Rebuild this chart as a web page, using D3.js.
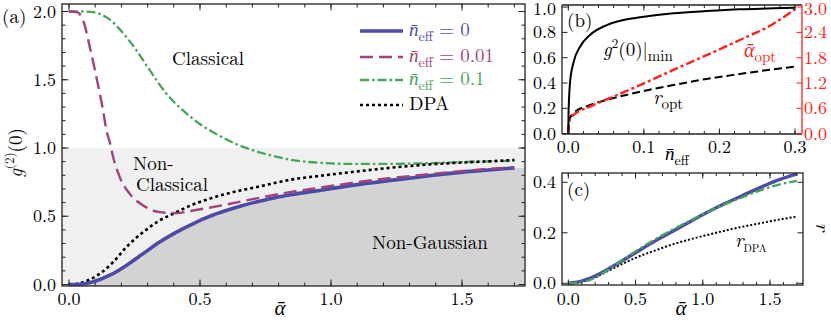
<!DOCTYPE html>
<html><head><meta charset="utf-8">
<script src="https://cdn.jsdelivr.net/npm/d3@7"></script>
<style>
body{margin:0;background:#fff;}
</style></head>
<body><svg id="c" width="831" height="321"></svg>
<script>
// ---------- Panel (a): g2(0) vs alpha ----------
const aBlue = [0,0.04,0.093,0.156,0.219,0.283,0.346,0.41,0.473,0.536,0.6,0.663,0.726,0.79,0.853,0.967,1.094,1.22,1.347,1.474,1.6,1.7];
const gBlue = [0,0.002,0.02,0.068,0.14,0.226,0.311,0.384,0.445,0.499,0.542,0.579,0.61,0.638,0.66,0.693,0.73,0.761,0.79,0.818,0.839,0.854];
const aPurple = [0,0.03,0.055,0.08,0.105,0.13,0.143,0.156,0.169,0.194,0.232,0.283,0.346,0.41,0.473,0.6,0.726,0.853,0.967,1.094,1.22,1.347,1.474,1.6,1.7];
const gPurple = [2.0,1.995,1.93,1.735,1.515,1.275,1.128,1.04,0.93,0.785,0.664,0.579,0.53,0.523,0.542,0.586,0.635,0.68,0.712,0.749,0.778,0.803,0.827,0.847,0.858];
const aGreen = [0,0.05,0.093,0.156,0.207,0.257,0.308,0.371,0.435,0.498,0.56,0.625,0.688,0.75,0.853,0.967,1.094,1.22,1.347,1.474,1.6,1.7];
const gGreen = [2.0,2.0,1.995,1.94,1.84,1.717,1.57,1.40,1.275,1.178,1.105,1.04,0.993,0.956,0.912,0.89,0.883,0.883,0.888,0.895,0.902,0.907];
const aDPA = [0,0.03,0.067,0.118,0.169,0.219,0.283,0.346,0.41,0.473,0.536,0.6,0.726,0.853,0.967,1.094,1.22,1.347,1.474,1.6,1.7];
const gDPA = [0,0.005,0.026,0.08,0.165,0.274,0.384,0.469,0.53,0.586,0.628,0.664,0.718,0.77,0.798,0.827,0.854,0.876,0.891,0.902,0.912];
const ticksA_x = [0,0.5,1.0,1.5];
const ticksA_y = [0,0.5,1.0,1.5,2.0];
const legendLabels = ["0","0.01","0.1"];

// ---------- Panel (b): vs n_eff ----------
const nG2 = [0,0.0003,0.001,0.0022,0.0066,0.0155,0.0287,0.051,0.073,0.095,0.139,0.183,0.227,0.271,0.3];
const g2min = [0,0.15,0.28,0.40,0.556,0.687,0.78,0.858,0.898,0.919,0.951,0.969,0.983,0.99,0.995];
const nOpt = [0,0.0005,0.0022,0.0066,0.0287,0.051,0.095,0.139,0.183,0.227,0.271,0.3];
const rOpt = [0,0.06,0.121,0.16,0.226,0.266,0.331,0.384,0.432,0.471,0.508,0.53];
const alphaOpt = [0,0.18,0.36,0.44,0.64,0.81,1.15,1.51,1.86,2.22,2.6,2.95];
const ticksB_x = [0,0.1,0.2,0.3];
const ticksB_yL = [0,0.2,0.4,0.6,0.8,1.0];
const ticksB_yR = [0,0.6,1.2,1.8,2.4,3.0];

// ---------- Panel (c): r vs alpha ----------
const aC = [0,0.037,0.161,0.286,0.41,0.533,0.657,0.781,0.905,1.03,1.153,1.277,1.401,1.525,1.7];
const rBlue = [0,0.002,0.02,0.053,0.092,0.132,0.171,0.207,0.244,0.28,0.313,0.343,0.373,0.402,0.433];
const rGreen = [0,0.001,0.013,0.05,0.095,0.138,0.178,0.214,0.248,0.281,0.31,0.337,0.363,0.385,0.406];
const rDPA = [0,0.0,0.016,0.046,0.079,0.108,0.132,0.155,0.174,0.191,0.207,0.222,0.235,0.248,0.264];
const ticksC_x = [0,0.5,1.0,1.5];
const ticksC_y = [0,0.2,0.4];

// ---------- styling ----------
const BLUE="#4b4ba8", PURPLE="#a2417b", GREEN="#45a558", RED="#ff2020", FRAME="#222";
const FONT="'Latin Modern Roman','Liberation Serif'";
const GREEK="'Liberation Serif'";
const ALPHABAR="\u03B1\u0304", NBAR="n\u0304";
const svg = d3.select("#c");
const zip = (xs,ys)=>xs.map((x,i)=>[x,ys[i]]);

function frame(g, x0,x1,y0,y1, id){
  svg.append("clipPath").attr("id",id).append("rect").attr("x",x0).attr("y",y0).attr("width",x1-x0).attr("height",y1-y0);
}
function ticksH(g, sc, vals, yTop, yBot, len, color){
  vals.forEach(v=>{const x=sc(v);
    g.append("line").attr("x1",x).attr("x2",x).attr("y1",yBot).attr("y2",yBot-len).attr("stroke",color).attr("stroke-width",1);
    g.append("line").attr("x1",x).attr("x2",x).attr("y1",yTop).attr("y2",yTop+len).attr("stroke",color).attr("stroke-width",1);});
}
function ticksV(g, sc, vals, xL, xR, len, colorL, colorR){
  vals.forEach(v=>{const y=sc(v);
    if(colorL) g.append("line").attr("x1",xL).attr("x2",xL+len).attr("y1",y).attr("y2",y).attr("stroke",colorL).attr("stroke-width",1);
    if(colorR) g.append("line").attr("x1",xR).attr("x2",xR-len).attr("y1",y).attr("y2",y).attr("stroke",colorR).attr("stroke-width",1);});
}
function rng(a,b,s){const r=[];for(let v=a;v<=b+1e-9;v+=s)r.push(+v.toFixed(4));return r;}
function txt(g,x,y,size){return g.append("text").attr("x",x).attr("y",y).attr("font-size",size).style("font-family",FONT);}

// ===== Panel (a) =====
const FA={l:62,r:525,t:4,b:286};
const xA = d3.scaleLinear().domain([0,1.5]).range([69,462]);
const yA = d3.scaleLinear().domain([0,2]).range([284.5,11.5]);
const gA = svg.append("g");
frame(gA,FA.l,FA.r,FA.t,FA.b,"clipA");
const pA = gA.append("g").attr("clip-path","url(#clipA)");
pA.append("rect").attr("x",FA.l).attr("width",FA.r-FA.l).attr("y",yA(1)).attr("height",FA.b-yA(1)).attr("fill","#f0f0f0");
const xAmax = xA.invert(FA.r);
const areaData = zip(aBlue,gBlue).concat([[xAmax,gBlue[gBlue.length-1]]]);
pA.append("path").datum(areaData).attr("fill","#d3d3d3")
  .attr("d",d3.area().x(d=>xA(d[0])).y0(FA.b).y1(d=>yA(d[1])).curve(d3.curveMonotoneX));
const lineA = d3.line().x(d=>xA(d[0])).y(d=>yA(d[1])).curve(d3.curveMonotoneX);
pA.append("path").datum(zip(aGreen,gGreen)).attr("d",lineA).attr("fill","none").attr("stroke",GREEN).attr("stroke-width",2.3).attr("stroke-dasharray","9,3,2.5,3");
pA.append("path").datum(zip(aDPA,gDPA)).attr("d",lineA).attr("fill","none").attr("stroke","#000").attr("stroke-width",2.6).attr("stroke-dasharray","3,3");
pA.append("path").datum(zip(aBlue,gBlue)).attr("d",lineA).attr("fill","none").attr("stroke",BLUE).attr("stroke-width",3.6);
pA.append("path").datum(zip(aPurple,gPurple)).attr("d",lineA).attr("fill","none").attr("stroke",PURPLE).attr("stroke-width",2.4).attr("stroke-dasharray","13,6");
gA.append("rect").attr("x",FA.l).attr("y",FA.t).attr("width",FA.r-FA.l).attr("height",FA.b-FA.t).attr("fill","none").attr("stroke",FRAME).attr("stroke-width",1.3);
ticksH(gA,xA,rng(0,1.7,0.1),FA.t,FA.b,3.5,FRAME);
ticksH(gA,xA,ticksA_x,FA.t,FA.b,6.5,FRAME);
ticksV(gA,yA,rng(0,2,0.1),FA.l,FA.r,3.5,FRAME,FRAME);
ticksV(gA,yA,ticksA_y,FA.l,FA.r,6.5,FRAME,FRAME);
const tickFont=18;
ticksA_x.forEach(v=>txt(gA,xA(v),305,tickFont).attr("text-anchor","middle").text(v.toFixed(1)));
ticksA_y.forEach(v=>txt(gA,56,Math.max(yA(v)+6,18),tickFont).attr("text-anchor","end").text(v.toFixed(1)));
txt(gA,2,23,19).text("(a)");
const yl = gA.append("text").attr("transform","translate(22,153) rotate(-90)").attr("text-anchor","middle").attr("font-size",19).style("font-family",FONT);
yl.append("tspan").attr("font-style","italic").text("g");
yl.append("tspan").attr("font-size",13).attr("dy",-8).text("(2)");
yl.append("tspan").attr("dy",8).text("(0)");
gA.append("text").attr("x",280).attr("y",315).attr("text-anchor","middle").attr("font-size",21).attr("font-style","italic").style("font-family",GREEK).text(ALPHABAR);
txt(gA,172,65,19).text("Classical");
txt(gA,133,170,19).text("Non-");
txt(gA,136,191,19).text("Classical");
txt(gA,372,249,19).text("Non-Gaussian");
const legItems=[
 {c:BLUE,w:3.6,d:null,lab:legendLabels[0],tc:"#5050aa"},
 {c:PURPLE,w:2.4,d:"13,6",lab:legendLabels[1],tc:"#a2417b"},
 {c:GREEN,w:2.3,d:"9,3,2.5,3",lab:legendLabels[2],tc:"#45a558"},
 {c:"#000",w:2.6,d:"3,3",lab:null,tc:"#000"}];
const legY=[31,57,80,105];
legItems.forEach((it,i)=>{
  const y=legY[i];
  const ln=gA.append("line").attr("x1",360).attr("x2",403).attr("y1",y).attr("y2",y).attr("stroke",it.c).attr("stroke-width",it.w);
  if(it.d) ln.attr("stroke-dasharray",it.d);
  const t=txt(gA,409,y+5,19).attr("fill",it.tc);
  if(it.lab===null){t.text("DPA");}
  else{
    t.append("tspan").attr("font-style","italic").style("font-family",GREEK).text(NBAR);
    t.append("tspan").attr("font-size",14).attr("dy",5).text("eff");
    t.append("tspan").attr("dy",-5).text(" = "+it.lab);
  }
});

// ===== Panel (b) =====
const FB={l:562,r:802,t:5,b:134};
const xB = d3.scaleLinear().domain([0,0.3]).range([568.3,795]);
const yB = d3.scaleLinear().domain([0,1]).range([133.6,7.1]);
const yB2 = d3.scaleLinear().domain([0,3]).range([133.6,7.1]);
const gB = svg.append("g");
frame(gB,FB.l,FB.r,FB.t,FB.b,"clipB");
const pB = gB.append("g").attr("clip-path","url(#clipB)");
const lineB = d3.line().x(d=>xB(d[0])).y(d=>yB(d[1])).curve(d3.curveMonotoneX);
const lineB2 = d3.line().x(d=>xB(d[0])).y(d=>yB2(d[1])).curve(d3.curveMonotoneX);
pB.append("path").datum(zip(nOpt,rOpt)).attr("d",lineB).attr("fill","none").attr("stroke","#000").attr("stroke-width",2).attr("stroke-dasharray","8,4");
pB.append("path").datum(zip(nOpt,alphaOpt)).attr("d",lineB2).attr("fill","none").attr("stroke",RED).attr("stroke-width",2.4).attr("stroke-dasharray","9,3,3,3");
pB.append("path").datum(zip(nG2,g2min)).attr("d",lineB).attr("fill","none").attr("stroke","#000").attr("stroke-width",2);
gB.append("line").attr("x1",FB.l).attr("x2",FB.r).attr("y1",FB.t).attr("y2",FB.t).attr("stroke",FRAME).attr("stroke-width",1.3);
gB.append("line").attr("x1",FB.l).attr("x2",FB.r).attr("y1",FB.b).attr("y2",FB.b).attr("stroke",FRAME).attr("stroke-width",1.3);
gB.append("line").attr("x1",FB.l).attr("x2",FB.l).attr("y1",FB.t).attr("y2",FB.b).attr("stroke",FRAME).attr("stroke-width",1.3);
gB.append("line").attr("x1",FB.r).attr("x2",FB.r).attr("y1",FB.t).attr("y2",FB.b).attr("stroke",RED).attr("stroke-width",1.3);
ticksH(gB,xB,rng(0,0.3,0.02),FB.t,FB.b,3,FRAME);
ticksH(gB,xB,ticksB_x,FB.t,FB.b,5.5,FRAME);
ticksV(gB,yB,ticksB_yL,FB.l,FB.r,5.5,FRAME,null);
ticksV(gB,yB2,ticksB_yR,FB.l,FB.r,5.5,null,RED);
ticksB_x.forEach(v=>txt(gB,xB(v),153,tickFont).attr("text-anchor","middle").text(v.toFixed(1)));
ticksB_yL.forEach(v=>txt(gB,556,Math.max(yB(v)+6,15),tickFont).attr("text-anchor","end").text(v.toFixed(1)));
ticksB_yR.forEach(v=>txt(gB,804,Math.max(yB2(v)+6,15),tickFont).attr("fill",RED).text(v.toFixed(1)));
txt(gB,567,27,19).text("(b)");
const tg = txt(gB,603,56,19);
tg.append("tspan").attr("font-style","italic").text("g");
tg.append("tspan").attr("font-size",13).attr("dy",-8).text("2");
tg.append("tspan").attr("dy",8).text("(0)|");
tg.append("tspan").attr("font-size",15).attr("dy",5).text("min");
const ta = txt(gB,744,57,20).attr("fill",RED);
ta.append("tspan").attr("font-style","italic").style("font-family",GREEK).text(ALPHABAR);
ta.append("tspan").attr("font-size",15).attr("dy",5).text("opt");
const tr = txt(gB,653,104,20);
tr.append("tspan").attr("font-style","italic").text("r");
tr.append("tspan").attr("font-size",15).attr("dy",5).text("opt");
const tn = txt(gB,665,160,19);
tn.append("tspan").attr("font-style","italic").style("font-family",GREEK).text(NBAR);
tn.append("tspan").attr("font-size",14).attr("dy",5).text("eff");

// ===== Panel (c) =====
const FC={l:562,r:803,t:173,b:285};
const xC = d3.scaleLinear().domain([0,1.5]).range([568.3,770]);
const yC = d3.scaleLinear().domain([0,0.4]).range([283.3,182.3]);
const gC = svg.append("g");
frame(gC,FC.l,FC.r,FC.t,FC.b,"clipC");
const pC = gC.append("g").attr("clip-path","url(#clipC)");
const lineC = d3.line().x(d=>xC(d[0])).y(d=>yC(d[1])).curve(d3.curveMonotoneX);
pC.append("path").datum(zip(aC,rDPA)).attr("d",lineC).attr("fill","none").attr("stroke","#000").attr("stroke-width",2).attr("stroke-dasharray","2,2");
pC.append("path").datum(zip(aC,rBlue)).attr("d",lineC).attr("fill","none").attr("stroke",BLUE).attr("stroke-width",3.4);
pC.append("path").datum(zip(aC,rGreen)).attr("d",lineC).attr("fill","none").attr("stroke",GREEN).attr("stroke-width",2.3).attr("stroke-dasharray","9,3,2.5,3");
gC.append("rect").attr("x",FC.l).attr("y",FC.t).attr("width",FC.r-FC.l).attr("height",FC.b-FC.t).attr("fill","none").attr("stroke",FRAME).attr("stroke-width",1.3);
ticksH(gC,xC,rng(0,1.7,0.1),FC.t,FC.b,3,FRAME);
ticksH(gC,xC,ticksC_x,FC.t,FC.b,5.5,FRAME);
ticksV(gC,yC,ticksC_y,FC.l,FC.r,5.5,FRAME,FRAME);
ticksC_x.forEach(v=>txt(gC,xC(v),305,tickFont).attr("text-anchor","middle").text(v.toFixed(1)));
ticksC_y.forEach(v=>txt(gC,556,yC(v)+6,tickFont).attr("text-anchor","end").text(v.toFixed(1)));
txt(gC,567,196,19).text("(c)");
const td = txt(gC,735,247,20);
td.append("tspan").attr("font-style","italic").text("r");
td.append("tspan").attr("font-size",11).attr("dy",5).text("DPA");
gC.append("text").attr("x",681).attr("y",315).attr("text-anchor","middle").attr("font-size",21).attr("font-style","italic").style("font-family",GREEK).text(ALPHABAR);
gC.append("text").attr("transform","translate(816,227) rotate(90)").attr("text-anchor","middle").attr("font-size",20).attr("font-style","italic").style("font-family",FONT).text("r");
</script></body></html>
